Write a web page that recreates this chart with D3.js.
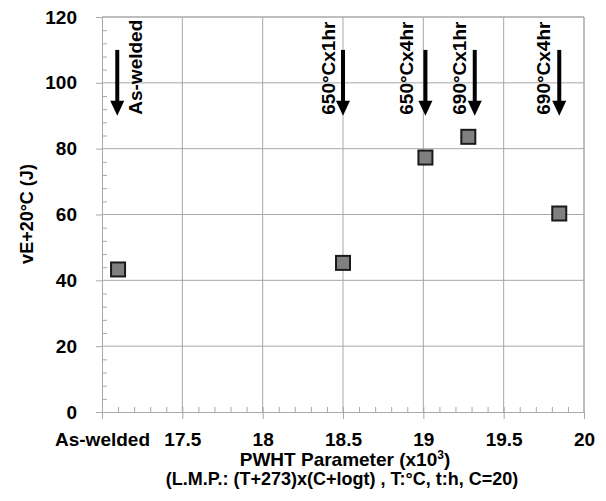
<!DOCTYPE html>
<html>
<head>
<meta charset="utf-8">
<script src="https://cdn.jsdelivr.net/npm/d3@7"></script>
<style>
  html, body { margin: 0; padding: 0; background: #fff; overflow: hidden; }
  svg { display: block; }
  text { font-family: "Liberation Sans", Arial, sans-serif; font-weight: bold; fill: #000; }
</style>
</head>
<body>
<div id="chart"></div>
<script>
// chart values
const pwhtX = [17.1, 18.5, 19.013, 19.28, 19.846];
const energyY = [43.3, 45.3, 77.3, 83.6, 60.3];

const arrowLabels = ['As-welded', '650\u00B0Cx1hr', '650\u00B0Cx4hr', '690\u00B0Cx1hr', '690\u00B0Cx4hr'];
const arrowX = [17.095, 18.5, 19.013, 19.32, 19.846];
const labelOffset = [25, -8.5, -12, -8.5, -9];   // px from the arrow to the text baseline

const xTicks = [17, 17.5, 18, 18.5, 19, 19.5, 20];
const xTickLabels = ['As-welded', '17.5', '18', '18.5', '19', '19.5', '20'];
const yTicks = [0, 20, 40, 60, 80, 100, 120];

const width = 606, height = 501;
const margin = { top: 17, right: 22, bottom: 89, left: 102 };
const innerWidth = width - margin.left - margin.right;
const innerHeight = height - margin.top - margin.bottom;
const gridColor = '#a8a8a8';

const svg = d3.select('#chart').append('svg')
    .attr('width', width)
    .attr('height', height);

const g = svg.append('g')
    .attr('transform', `translate(${margin.left},${margin.top})`);

const xScale = d3.scaleLinear().domain([17, 20]).range([0, innerWidth]);
const yScale = d3.scaleLinear().domain([0, 120]).range([innerHeight, 0]);

// grid lines
g.append('g').selectAll('line.vgrid')
    .data(xTicks.slice(1))
    .enter().append('line')
        .attr('x1', d => xScale(d)).attr('x2', d => xScale(d))
        .attr('y1', 0).attr('y2', innerHeight)
        .attr('stroke', gridColor).attr('stroke-width', 1);

g.append('g').selectAll('line.hgrid')
    .data(yTicks.slice(1))
    .enter().append('line')
        .attr('x1', 0).attr('x2', innerWidth)
        .attr('y1', d => yScale(d)).attr('y2', d => yScale(d))
        .attr('stroke', gridColor).attr('stroke-width', 1);

// minor ticks, pointing into the plot
g.append('g')
    .attr('transform', `translate(0,${innerHeight})`)
    .call(d3.axisBottom(xScale).tickValues(d3.range(171, 200).map(d => d / 10)).tickSize(-5).tickFormat(''))
    .call(a => a.select('.domain').remove())
    .call(a => a.selectAll('line').attr('stroke', gridColor));

g.append('g')
    .call(d3.axisLeft(yScale).tickValues(d3.range(4, 120, 4).filter(d => d % 20 !== 0)).tickSize(-5).tickFormat(''))
    .call(a => a.select('.domain').remove())
    .call(a => a.selectAll('line').attr('stroke', gridColor));

// main axes
const xAxis = g.append('g')
    .attr('transform', `translate(0,${innerHeight})`)
    .call(d3.axisBottom(xScale).tickValues(xTicks).tickSize(7).tickPadding(14)
        .tickFormat((d, i) => xTickLabels[i]));

const yAxis = g.append('g')
    .call(d3.axisLeft(yScale).tickValues(yTicks).tickSize(6).tickPadding(19).tickFormat(d3.format('d')));

[xAxis, yAxis].forEach(a => {
    a.select('.domain').attr('stroke', gridColor);
    a.selectAll('line').attr('stroke', gridColor);
    a.selectAll('text').style('font-size', '19px').attr('font-family', null);
});

// plot frame top and right
g.append('line').attr('x1', 0).attr('x2', innerWidth).attr('y1', 0).attr('y2', 0).attr('stroke', gridColor);
g.append('line').attr('x1', innerWidth).attr('x2', innerWidth).attr('y1', 0).attr('y2', innerHeight).attr('stroke', gridColor);

// arrows with labels
const arrowTop = 110, arrowTip = 90, headLen = 15, headHalf = 7;
const arrows = g.append('g');
arrowX.forEach((ax, i) => {
    const x = xScale(ax);
    const y0 = yScale(arrowTop), y1 = yScale(arrowTip);
    arrows.append('line')
        .attr('x1', x).attr('x2', x)
        .attr('y1', y0).attr('y2', y1 - headLen + 1)
        .attr('stroke', '#000').attr('stroke-width', 4);
    arrows.append('path')
        .attr('d', `M${x - headHalf},${y1 - headLen} L${x + headHalf},${y1 - headLen} L${x},${y1} Z`)
        .attr('fill', '#000');
    arrows.append('text')
        .attr('transform', `translate(${x + labelOffset[i]},${y1 - 1}) rotate(-90)`)
        .style('font-size', '19px')
        .text(arrowLabels[i]);
});

// data points
g.append('g').selectAll('rect')
    .data(d3.zip(pwhtX, energyY))
    .enter().append('rect')
        .attr('x', d => xScale(d[0]) - 7)
        .attr('y', d => yScale(d[1]) - 7)
        .attr('width', 14).attr('height', 14)
        .attr('fill', '#808080')
        .attr('stroke', '#1a1a1a')
        .attr('stroke-width', 2);

// axis titles
const xTitle = svg.append('text')
    .attr('x', 345).attr('y', 466)
    .attr('text-anchor', 'middle')
    .style('font-size', '19px');
xTitle.append('tspan').text('PWHT Parameter (x10');
xTitle.append('tspan').attr('dy', -7).style('font-size', '12px').text('3');
xTitle.append('tspan').attr('dy', 7).text(')');

svg.append('text')
    .attr('x', 342).attr('y', 485)
    .attr('text-anchor', 'middle')
    .style('font-size', '18px')
    .text('(L.M.P.: (T+273)x(C+logt) , T:\u00B0C, t:h, C=20)');

svg.append('text')
    .attr('transform', 'translate(33,214) rotate(-90)')
    .attr('text-anchor', 'middle')
    .style('font-size', '18px')
    .text('vE+20\u00B0C (J)');
</script>
</body>
</html>
